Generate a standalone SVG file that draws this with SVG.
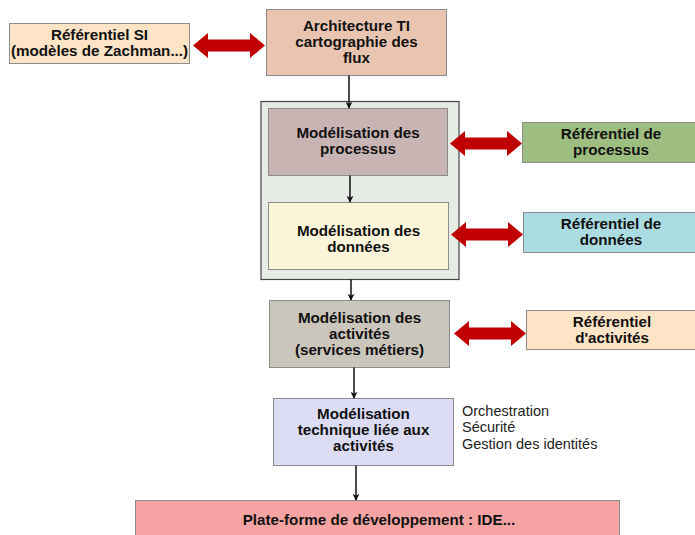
<svg xmlns="http://www.w3.org/2000/svg" width="695" height="535" viewBox="0 0 695 535">
  <defs>
    <style>
      .box { stroke: #8c8c8c; stroke-width: 1; }
      .lbl { font-family: "Liberation Sans", Arial, sans-serif; font-size: 15.2px; font-weight: bold; fill: #111; text-anchor: middle; }
      .note { font-family: "Liberation Sans", Arial, sans-serif; font-size: 14.5px; fill: #222; }
      .link { stroke: #111; stroke-width: 1.5; fill: none; marker-end: url(#tip); }
      .dbl { fill: #c00000; }
    </style>
    <marker id="tip" viewBox="0 0 10 10" refX="9" refY="5" markerWidth="7" markerHeight="7" markerUnits="userSpaceOnUse" orient="auto">
      <path d="M0,0 L10,5 L0,10 L3,5 Z" fill="#111"/>
    </marker>
    <!-- horizontal double-headed block arrow, 72 wide, centred on y=0 -->
    <path id="twoway" d="M0,0 L15,-12.5 L15,-6 L57,-6 L57,-12.5 L72,0 L57,12.5 L57,6 L15,6 L15,12.5 Z"/>
  </defs>

  <rect width="695" height="535" fill="#ffffff"/>

  <!-- grouping frame around process and data modelling -->
  <g id="frame">
    <rect x="261" y="101.5" width="198" height="178" fill="#e6ebe6" stroke="#444" stroke-width="1.2"/>
  </g>

  <g id="ref-si">
    <rect class="box" x="9.5" y="23.5" width="180" height="40" fill="#fde4c6"/>
    <text class="lbl" x="99.5" y="40">Référentiel SI</text>
    <text class="lbl" x="99.5" y="56">(modèles de Zachman...)</text>
  </g>

  <g id="archi">
    <rect class="box" x="266.5" y="9.5" width="180" height="66" fill="#e9c5b1"/>
    <text class="lbl" x="356.5" y="31">Architecture TI</text>
    <text class="lbl" x="356.5" y="47">cartographie des</text>
    <text class="lbl" x="356.5" y="63">flux</text>
  </g>

  <g id="processus">
    <rect class="box" x="268.5" y="108.5" width="179" height="67" fill="#c9b4b4"/>
    <text class="lbl" x="358" y="138">Modélisation des</text>
    <text class="lbl" x="358" y="154">processus</text>
  </g>

  <g id="donnees">
    <rect class="box" x="268.5" y="202.5" width="180" height="67" fill="#fdf5da"/>
    <text class="lbl" x="358.5" y="236">Modélisation des</text>
    <text class="lbl" x="358.5" y="252">données</text>
  </g>

  <g id="activites">
    <rect class="box" x="269.5" y="300.5" width="180" height="67" fill="#cbc6bc"/>
    <text class="lbl" x="359.5" y="323">Modélisation des</text>
    <text class="lbl" x="359.5" y="339">activités</text>
    <text class="lbl" x="359.5" y="355">(services métiers)</text>
  </g>

  <g id="technique">
    <rect class="box" x="273.5" y="398.5" width="180" height="67" fill="#dcdcf4"/>
    <text class="lbl" x="363.5" y="419">Modélisation</text>
    <text class="lbl" x="363.5" y="435">technique liée aux</text>
    <text class="lbl" x="363.5" y="451">activités</text>
    <text class="note" x="462" y="416">Orchestration</text>
    <text class="note" x="462" y="432.3">Sécurité</text>
    <text class="note" x="462" y="448.6">Gestion des identités</text>
  </g>

  <g id="ide">
    <rect class="box" x="135.5" y="500.5" width="484" height="40" fill="#f6a3a3"/>
    <text class="lbl" x="379" y="525">Plate-forme de développement : IDE...</text>
  </g>

  <g id="ref-processus">
    <rect class="box" x="522.5" y="122.5" width="178" height="40" fill="#9dbe80"/>
    <text class="lbl" x="611" y="139">Référentiel de</text>
    <text class="lbl" x="611" y="155">processus</text>
  </g>

  <g id="ref-donnees">
    <rect class="box" x="523.5" y="212.5" width="178" height="40" fill="#abdce1"/>
    <text class="lbl" x="611" y="229">Référentiel de</text>
    <text class="lbl" x="611" y="245">données</text>
  </g>

  <g id="ref-activites">
    <rect class="box" x="526.5" y="310.5" width="178" height="39" fill="#fde4c6"/>
    <text class="lbl" x="612" y="327">Référentiel</text>
    <text class="lbl" x="612" y="343">d'activités</text>
  </g>

  <g id="connectors">
    <line class="link" x1="349" y1="75.5" x2="349" y2="108"/>
    <line class="link" x1="350" y1="175.5" x2="350" y2="202"/>
    <line class="link" x1="351" y1="279.5" x2="351" y2="300"/>
    <line class="link" x1="354" y1="367.5" x2="354" y2="398"/>
    <line class="link" x1="356" y1="465.5" x2="356" y2="500"/>
    <use href="#twoway" class="dbl" x="193" y="45.5"/>
    <use href="#twoway" class="dbl" x="450" y="143.5"/>
    <use href="#twoway" class="dbl" x="451" y="234.5"/>
    <use href="#twoway" class="dbl" x="454" y="333.5"/>
  </g>
</svg>
